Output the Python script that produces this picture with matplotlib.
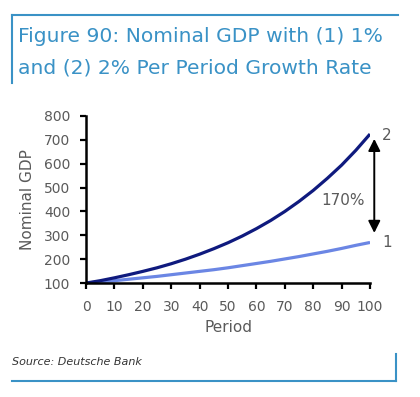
import matplotlib.pyplot as plt
from matplotlib.lines import Line2D

plt.rcParams['font.family'] = ['DejaVu Sans']

period = [0, 5, 10, 15, 20, 25, 30, 35, 40, 45, 50,
          55, 60, 65, 70, 75, 80, 85, 90, 95, 100]
gdp_1pct = [100, 105, 110, 116, 122, 128, 135, 142, 149, 156, 164,
            173, 182, 191, 201, 211, 222, 233, 245, 258, 270]
gdp_2pct = [100, 110, 122, 135, 149, 164, 181, 200, 221, 244, 269,
            297, 328, 362, 400, 442, 488, 539, 594, 656, 724]
xticks = list(range(0, 101, 10))
yticks = list(range(100, 801, 100))
gap_label = '170%'

title_col = '#3a92c6'
grey = '#5a5a5a'

fig = plt.figure(figsize=(4.2, 3.97), dpi=100)
ax = fig.add_axes([0.205, 0.287, 0.676, 0.421])

ax.plot(period, gdp_1pct, color='#6b86e4', lw=2.3, solid_capstyle='butt')
ax.plot(period, gdp_2pct, color='#0f1a7e', lw=2.3, solid_capstyle='butt')

ax.set_xlim(0, 100)
ax.set_ylim(100, 800)
ax.set_xticks(xticks)
ax.set_yticks(yticks)
for s in ['top', 'right']:
    ax.spines[s].set_visible(False)
for s in ['left', 'bottom']:
    ax.spines[s].set_linewidth(1.8)
ax.tick_params(length=4, width=1.6, labelsize=10, labelcolor=grey)
ax.tick_params(axis='y', pad=7.5)
ax.tick_params(axis='x', pad=8.5)
ax.set_xlabel('Period', fontsize=11, color=grey, labelpad=4)
ax.set_ylabel('Nominal GDP', fontsize=11, color=grey, labelpad=6)

# labels and arrow at the right end
ax.text(106, gdp_2pct[-1] - 5, '2', fontsize=11, color=grey, va='center', ha='center', clip_on=False)
ax.text(106, gdp_1pct[-1], '1', fontsize=11, color=grey, va='center', ha='center', clip_on=False)
ax.annotate('', xy=(101.5, 704), xytext=(101.5, 310),
            arrowprops=dict(arrowstyle='<|-|>', color='black', lw=1.4, mutation_scale=18,
                            shrinkA=0, shrinkB=0), annotation_clip=False)
ax.text(90.5, 444, gap_label, fontsize=11, color=grey, ha='center', va='center')

# title and frame
fig.text(0.044, 0.894, 'Figure 90: Nominal GDP with (1) 1%', fontsize=14.6, color=title_col, va='baseline')
fig.text(0.044, 0.814, 'and (2) 2% Per Period Growth Rate', fontsize=14.6, color=title_col, va='baseline')
fig.add_artist(Line2D([0.028, 0.948], [0.962, 0.962], color=title_col, lw=1.5))
fig.add_artist(Line2D([0.028, 0.028], [0.962, 0.791], color=title_col, lw=1.5))

fig.text(0.029, 0.081, 'Source: Deutsche Bank', fontsize=8, style='italic', color='#333333', va='baseline')
fig.add_artist(Line2D([0.028, 0.943], [0.041, 0.041], color=title_col, lw=1.5))
fig.add_artist(Line2D([0.943, 0.943], [0.041, 0.108], color=title_col, lw=1.5))

fig.savefig('out.png', dpi=100)
